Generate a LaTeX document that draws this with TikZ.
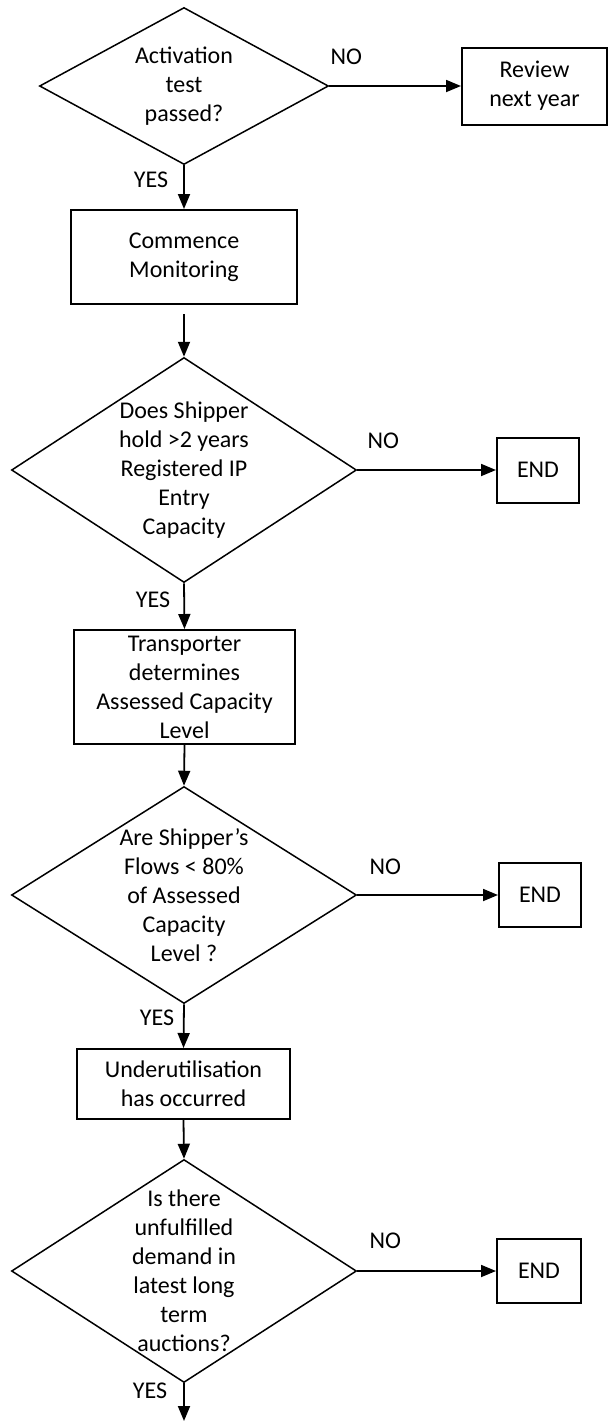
\documentclass[tikz,border=0pt]{standalone}
\usepackage{fontspec}
\setmainfont{Carlito}
\usepackage{tikz}
\usetikzlibrary{positioning,arrows.meta,calc,shapes.geometric}
\tikzset{
  dec/.style={diamond, draw, line width=0.75pt, inner sep=0pt},
  dtxt/.style={align=center, inner sep=0pt, font=\fontsize{12}{14.5}\selectfont},
  proc/.style={rectangle, draw, line width=1pt, align=center, inner sep=0pt,
               font=\fontsize{12}{14.5}\selectfont},
  lbl/.style={font=\fontsize{12}{14.5}\selectfont, inner sep=0pt},
  flow/.style={-{Triangle[length=7.5pt,width=6pt]}, line width=0.9pt},
}

\begin{document}
\begin{tikzpicture}[x=0.5pt,y=-0.5pt]
  \useasboundingbox (0,0) rectangle (607,1421);

  % --- decisions (centre column) ---
  \node[dec, minimum width=144.5pt, minimum height=78.5pt] (d1) at (184,86){};
  \node[dtxt] (q1) at (d1){Activation\\test\\passed?};
  \node[dec, minimum width=172.5pt, minimum height=112.5pt] (d2) at (184,470){};
  \node[dtxt] (q2) at (d2){Does Shipper\\hold >2 years\\Registered IP\\Entry\\Capacity};
  \node[dec, minimum width=172.5pt, minimum height=108.5pt] (d3) at (184,895){};
  \node[dtxt] (q3) at (d3){Are Shipper’s\\Flows < 80\%\\of Assessed\\Capacity\\Level ?};
  \node[dec, minimum width=172.5pt, minimum height=111.5pt] (d4) at (184,1271){};
  \node[dtxt] (q4) at (d4){Is there\\unfulfilled\\demand in\\latest long\\term\\auctions?};

  % --- process boxes ---
  \node[proc, minimum width=113pt, minimum height=47pt] (b1) at (184,257){Commence\\Monitoring};
  \node[proc, minimum width=110.5pt, minimum height=57pt] (b2) at (184.5,687){Transporter\\determines\\Assessed Capacity\\Level};
  \node[proc, minimum width=106.5pt, minimum height=35pt] (b3) at (183.5,1084){Underutilisation\\has occurred};

  % --- outcomes (right column) ---
  \node[proc, minimum width=72.5pt, minimum height=38.5pt] (r1) at (534.5,86){Review\\next year};
  \node[proc, minimum width=41pt, minimum height=32.5pt] (e1) at (538,470){END};
  \node[proc, minimum width=41pt, minimum height=32pt] (e2) at (540,895){END};
  \node[proc, minimum width=42pt, minimum height=32pt] (e3) at (539,1271){END};
  \coordinate (out) at (184,1421);

  % --- YES branch ---
  \draw[flow] (d1.south) -- (b1.north);
  \draw[flow, shorten <=4.5pt] (b1.south) -- (d2.north);
  \draw[flow] (d2.south) -- (b2.north);
  \draw[flow] (b2.south) -- (d3.north);
  \draw[flow] (d3.south) -- (b3.north);
  \draw[flow] (b3.south) -- (d4.north);
  \draw[flow] (d4.south) -- (out);
  \node[lbl] (y1) at (151,180){YES};
  \node[lbl] (y2) at (153,600){YES};
  \node[lbl] (y3) at (157,1018){YES};
  \node[lbl] (y4) at (150,1391){YES};

  % --- NO branch ---
  \draw[flow] (d1.east) -- (r1.west);
  \draw[flow] (d2.east) -- (e1.west);
  \draw[flow] (d3.east) -- (e2.west);
  \draw[flow] (d4.east) -- (e3.west);
  \node[lbl] (n1) at ($(d1.east)+(17,-29)$){NO};
  \node[lbl] (n2) at ($(d2.east)+(26,-29)$){NO};
  \node[lbl] (n3) at ($(d3.east)+(28,-28)$){NO};
  \node[lbl] (n4) at ($(d4.east)+(28,-30)$){NO};
\end{tikzpicture}
\end{document}
